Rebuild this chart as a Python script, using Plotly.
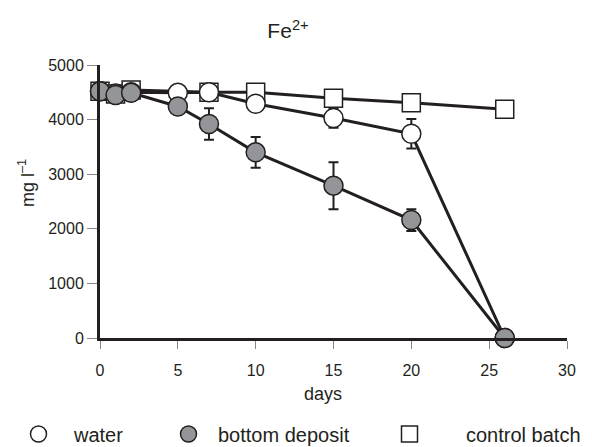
import plotly.graph_objects as go

days_water = [0, 1, 2, 5, 7, 10, 15, 20, 26]
water = [4520, 4480, 4500, 4490, 4500, 4290, 4030, 3740, 0]
water_err = [0, 0, 0, 0, 0, 0, 180, 270, 0]

days_deposit = [0, 1, 2, 5, 7, 10, 15, 20, 26]
deposit = [4520, 4450, 4490, 4240, 3920, 3400, 2790, 2160, 0]
deposit_err = [0, 0, 0, 0, 290, 280, 430, 200, 0]

days_control = [0, 1, 2, 7, 10, 15, 20, 26]
control = [4520, 4470, 4540, 4500, 4500, 4390, 4310, 4190]

x_ticks = [0, 5, 10, 15, 20, 25, 30]
y_ticks = [0, 1000, 2000, 3000, 4000, 5000]

LINE = "#231f20"
GRAY = "#939598"
FONT = "Liberation Sans, Arial, sans-serif"

# page body has an 8px margin: positions below are window pixels, converted
OFF = 8
W, H = 592 - OFF, 447 - OFF
PL, PR, PT, PB = 100 - OFF, 567 - OFF, 65 - OFF, 338 - OFF


def px_x(p):
    return ((p - OFF) - PL) / (PR - PL)


def px_y(p):
    return (PB - (p - OFF)) / (PB - PT)


fig = go.Figure()

common = dict(mode="lines+markers", line=dict(color=LINE, width=3), cliponaxis=False, showlegend=False)

fig.add_trace(go.Scatter(
    x=days_control, y=control, name="control batch", **common,
    marker=dict(symbol="square", size=18, color="white", line=dict(color=LINE, width=1.5)),
))
fig.add_trace(go.Scatter(
    x=days_water, y=water, name="water", **common,
    marker=dict(symbol="circle", size=19, color="white", line=dict(color=LINE, width=1.5)),
    error_y=dict(type="data", array=water_err, color=LINE, thickness=2, width=5),
))
fig.add_trace(go.Scatter(
    x=days_deposit, y=deposit, name="bottom deposit", **common,
    marker=dict(symbol="circle", size=19, color=GRAY, line=dict(color=LINE, width=1.5)),
    error_y=dict(type="data", array=deposit_err, color=LINE, thickness=2, width=5),
))

# legend entries (markers only)
legend_items = [
    ("water", "circle", "white", "legend"),
    ("bottom deposit", "circle", GRAY, "legend2"),
    ("control batch", "square", "white", "legend3"),
]
for name, sym, col, leg in legend_items:
    fig.add_trace(go.Scatter(
        x=[None], y=[None], name=name, mode="markers",
        marker=dict(symbol=sym, size=16, color=col, line=dict(color=LINE, width=1.5)),
        legend=leg, showlegend=True,
    ))

leg_common = dict(orientation="h", yanchor="middle", y=px_y(434), xanchor="left",
                  font=dict(family=FONT, size=20, color="#231f20"),
                  bgcolor="rgba(0,0,0,0)", itemsizing="trace")

fig.update_layout(
    width=W, height=H,
    margin=dict(l=PL, r=W - PR, t=PT, b=H - PB, autoexpand=False),
    paper_bgcolor="white", plot_bgcolor="white",
    font=dict(family=FONT, size=16, color="#231f20"),
    title=dict(text="Fe<sup>2+</sup>", x=(288 - OFF) / W, xanchor="center",
               y=1 - (31 - OFF) / H, yanchor="middle",
               font=dict(family=FONT, size=21, color="#231f20")),
    showlegend=True,
    legend=dict(**leg_common, x=px_x(3), itemwidth=61),
    legend2=dict(**leg_common, x=px_x(159), itemwidth=49),
    legend3=dict(**leg_common, x=px_x(353), itemwidth=103),
    xaxis=dict(range=[0, 30], tickvals=x_ticks, showgrid=False, zeroline=False,
               showline=True, linecolor=LINE, linewidth=3, automargin=False,
               ticks="outside", ticklen=8, tickcolor="#888888", tickwidth=1,
               ticklabelstandoff=8, tickfont=dict(size=16)),
    yaxis=dict(range=[0, 5000], tickvals=y_ticks, showgrid=False, zeroline=False,
               showline=True, linecolor=LINE, linewidth=3, automargin=False,
               ticks="outside", ticklen=10, tickcolor="#888888", tickwidth=1,
               tickfont=dict(size=16)),
    annotations=[
        dict(text="days", xref="paper", yref="paper", x=px_x(323), y=px_y(394),
             xanchor="center", yanchor="middle", showarrow=False,
             font=dict(family=FONT, size=18, color="#231f20")),
        dict(text="mg l<sup>–1</sup>", xref="paper", yref="paper", x=px_x(26), y=px_y(183),
             xanchor="center", yanchor="middle", showarrow=False, textangle=-90,
             font=dict(family=FONT, size=18, color="#231f20")),
    ],
)

fig.write_html("out.html")
